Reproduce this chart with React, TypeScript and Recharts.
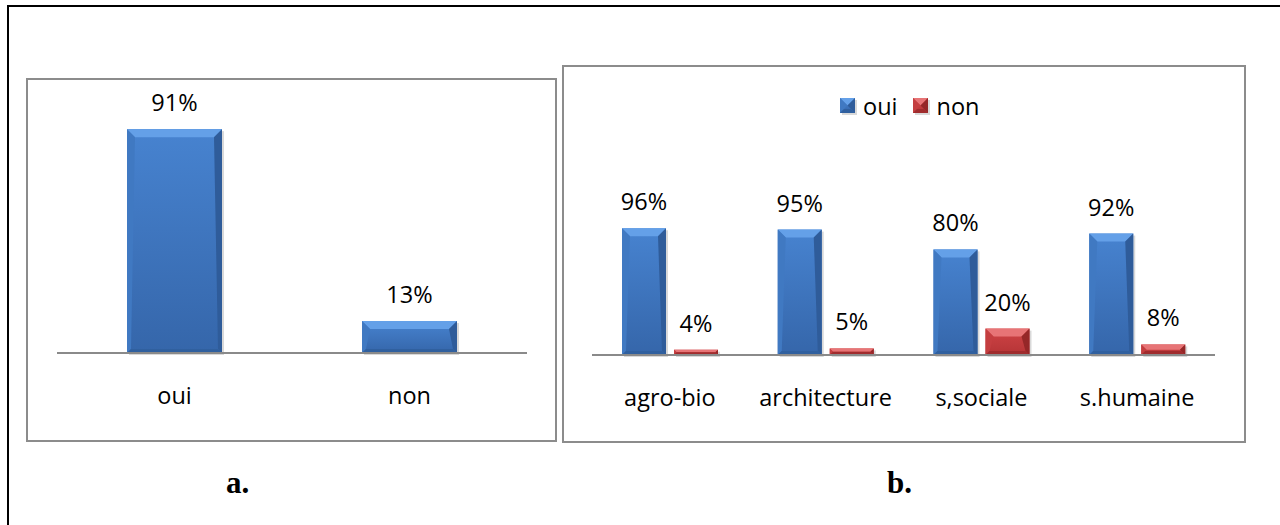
import { BarChart, Bar, XAxis, YAxis, LabelList } from 'recharts';

// panel a
const answersA = ['oui', 'non'];
const valuesA = [91, 13];

// panel b
const faculties = ['agro-bio', 'architecture', 's,sociale', 's.humaine'];
const ouiValues = [96, 95, 80, 92];
const nonValues = [4, 5, 20, 8];

const dataA = answersA.map((name, i) => ({ name, value: valuesA[i] }));
const dataB = faculties.map((name, i) => ({ name, oui: ouiValues[i], non: nonValues[i] }));

const FONT = '"Open Sans", sans-serif';

const palettes: Record<string, any> = {
    blue: { top: '#4783d0', bottom: '#3566aa', bevelTop: '#64a0e8', left: '#4079c2', right: '#2f5c9a', low: '#30609f' },
    red: { top: '#cf4446', bottom: '#b53436', bevelTop: '#e77476', left: '#c43e40', right: '#952728', low: '#a02c2e' },
};

const series = [
    { key: 'oui', color: 'blue' },
    { key: 'non', color: 'red' },
];

function BevelBar(props: any) {
    const { x, y, width: w, height: h, color } = props;
    if (!h || h <= 0) return null;
    const p = palettes[color];
    const b = Math.min(8, w / 2, h / 2);
    const bs = Math.min(4, w / 2, h / 2);
    const gid = 'g-' + color;
    return (
        <g>
            <defs>
                <linearGradient id={gid} x1="0" y1="0" x2="0" y2="1">
                    <stop offset="0%" stopColor={p.top} />
                    <stop offset="100%" stopColor={p.bottom} />
                </linearGradient>
            </defs>
            <rect x={x + 2} y={y + 2} width={w} height={h} fill="#000" opacity={0.15} />
            <rect x={x} y={y} width={w} height={h} fill={`url(#${gid})`} />
            <polygon points={`${x},${y} ${x + w},${y} ${x + w - b},${y + b} ${x + b},${y + b}`} fill={p.bevelTop} />
            <polygon points={`${x},${y} ${x + b},${y + b} ${x + bs},${y + h - bs} ${x},${y + h}`} fill={p.left} />
            <polygon points={`${x + w},${y} ${x + w - b},${y + b} ${x + w - bs},${y + h - bs} ${x + w},${y + h}`} fill={p.right} />
            <polygon points={`${x},${y + h} ${x + bs},${y + h - bs} ${x + w - bs},${y + h - bs} ${x + w},${y + h}`} fill={p.low} />
        </g>
    );
}

const pct = (v: any) => `${v}%`;
const labelStyle = { fontFamily: FONT, fontSize: 23.5, fill: '#000' };
const tickStyle = { fontFamily: FONT, fontSize: 23.5, fill: '#000' };

export default function App() {
    return (
        <div style={{ position: 'absolute', left: 0, top: 0, width: 1280, height: 525, background: '#fff', overflow: 'hidden' }}>
            <div style={{ position: 'absolute', left: 7, top: 5, width: 1280, height: 540, borderLeft: '2px solid #000', borderTop: '2px solid #000', borderRight: '2px solid #000', boxSizing: 'border-box' }} />

            {/* panel a */}
            <div style={{ position: 'absolute', left: 26, top: 78, width: 531, height: 364, border: '2px solid #8c8c8c', boxSizing: 'border-box' }} />
            <div style={{ position: 'absolute', left: 26, top: 78 }}>
                <BarChart width={530} height={363} data={dataA} margin={{ top: 29, right: 29, left: 31, bottom: 48 }}>
                    <XAxis dataKey="name" height={40} tickLine={false} tickSize={0} tickMargin={34}
                        axisLine={{ stroke: '#8a8a8a', strokeWidth: 2 }} tick={tickStyle} />
                    <YAxis hide domain={[0, 100]} />
                    <Bar dataKey="value" barSize={95} isAnimationActive={false}
                        shape={(p: any) => <BevelBar {...p} color="blue" />}>
                        <LabelList dataKey="value" position="top" offset={18} formatter={pct} style={labelStyle} />
                    </Bar>
                </BarChart>
            </div>

            {/* panel b */}
            <div style={{ position: 'absolute', left: 562, top: 65, width: 684, height: 378, border: '2px solid #8c8c8c', boxSizing: 'border-box' }} />
            <div style={{ position: 'absolute', left: 562, top: 65 }}>
                <BarChart width={683} height={377} data={dataB} margin={{ top: 158, right: 30, left: 30, bottom: 47 }}
                    barGap={8}>
                    <XAxis dataKey="name" height={40} tickLine={false} tickSize={0} tickMargin={34}
                        axisLine={{ stroke: '#8a8a8a', strokeWidth: 2 }} tick={tickStyle} />
                    <YAxis hide domain={[0, 100]} />
                    {series.map((s) => (
                        <Bar key={s.key} dataKey={s.key} barSize={44} isAnimationActive={false}
                            shape={(p: any) => <BevelBar {...p} color={s.color} />}>
                            <LabelList dataKey={s.key} position="top" offset={18} formatter={pct} style={labelStyle} />
                        </Bar>
                    ))}
                </BarChart>
            </div>

            {/* legend b */}
            <div style={{ position: 'absolute', left: 840, top: 91, display: 'flex', alignItems: 'center', fontFamily: FONT, fontSize: 23.5, lineHeight: '30px' }}>
                {series.map((s) => (
                    <div key={s.key} style={{ display: 'flex', alignItems: 'center', marginRight: 16 }}>
                        <svg width={17} height={17} style={{ marginRight: 6 }}>
                            <BevelBar x={0} y={0} width={15} height={15} color={s.color} />
                        </svg>
                        <span>{s.key}</span>
                    </div>
                ))}
            </div>

            <div style={{ position: 'absolute', left: 226, top: 465, fontFamily: '"Liberation Serif", serif', fontWeight: 'bold', fontSize: 31 }}>a.</div>
            <div style={{ position: 'absolute', left: 887, top: 465, fontFamily: '"Liberation Serif", serif', fontWeight: 'bold', fontSize: 31 }}>b.</div>
        </div>
    );
}
